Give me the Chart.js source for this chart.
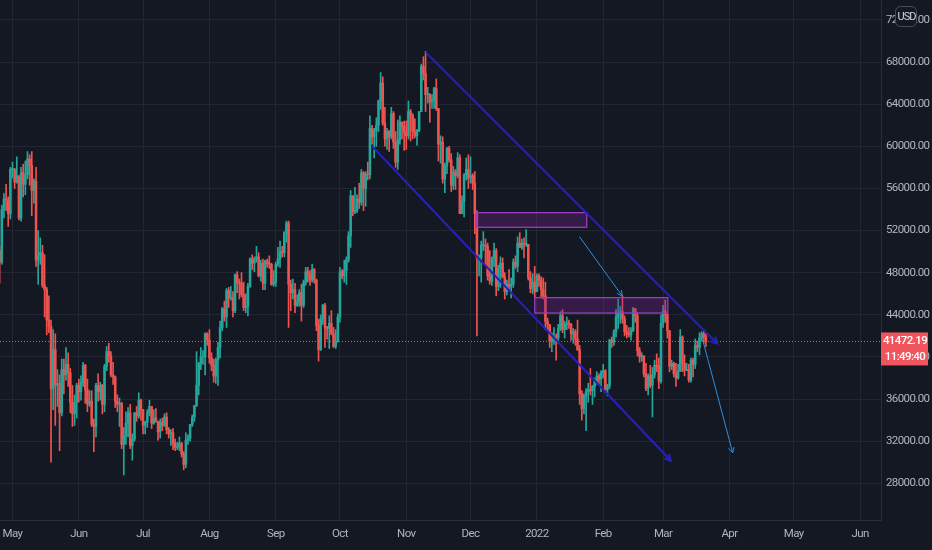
<!DOCTYPE html>
<html lang="en">
<head>
  <meta charset="UTF-8">
  <title>BTCUSD daily</title>
  <script src="https://cdn.jsdelivr.net/npm/chart.js"></script>
  <style>
    html, body { margin: 0; padding: 0; background: #141823; }
    #wrap { width: 932px; height: 550px; }
  </style>
</head>
<body>
  <div id="wrap"><canvas id="btcChart"></canvas></div>
  <script>
    // daily candles, values in thousands of USD; first close is Apr 24 2021 (open of the first candle)
    const firstDay = -6; // Apr 25 2021, counted in days from May 1 2021
    const closes = [50.1,
      49.0, 54.0, 55.0, 54.9, 53.6, 57.8,
      57.8, 56.6, 57.2, 53.2, 57.5, 56.4, 57.3, 58.8, 58.2, 55.8, 56.7, 49.2, 49.7, 49.9, 46.8, 46.4, 43.5, 42.9, 37.0, 40.7, 37.3, 37.5, 34.7, 38.8, 38.3, 39.3, 38.5, 35.7, 34.6, 35.7, 37.3,
      36.7, 37.6, 39.2, 36.9, 35.5, 35.8, 33.6, 33.4, 37.3, 36.7, 37.3, 35.5, 39.1, 40.5, 40.1, 38.3, 38.1, 35.8, 35.5, 35.6, 31.7, 32.5, 33.7, 34.7, 31.6, 32.2, 34.7, 34.4, 35.9, 35.0,
      33.5, 33.8, 34.7, 35.3, 33.7, 34.2, 33.9, 32.9, 33.8, 33.5, 34.3, 33.1, 32.7, 32.8, 31.8, 31.4, 31.5, 31.8, 30.8, 29.8, 32.1, 32.3, 33.6, 34.3, 35.4, 37.3, 39.4, 40.0, 40.0, 42.2, 41.6,
      39.9, 39.2, 38.2, 39.7, 40.9, 42.8, 44.6, 43.8, 46.3, 45.6, 45.6, 44.4, 47.8, 47.1, 47.0, 45.9, 44.7, 44.8, 46.7, 49.3, 48.9, 49.3, 49.5, 47.7, 48.9, 47.0, 49.1, 48.9, 48.8, 46.9, 47.1,
      48.8, 49.3, 50.0, 49.9, 51.8, 52.7, 46.9, 46.1, 46.4, 44.9, 45.2, 46.1, 44.9, 47.1, 48.1, 47.8, 47.3, 48.3, 47.3, 43.0, 40.7, 43.6, 44.9, 42.8, 42.7, 43.2, 42.2, 41.0, 41.5, 43.8,
      48.1, 47.7, 48.2, 49.2, 51.5, 55.3, 53.8, 53.9, 55.0, 54.7, 57.5, 56.0, 57.4, 57.3, 61.7, 60.9, 61.5, 62.0, 64.3, 66.0, 62.2, 60.7, 61.4, 60.9, 63.1, 60.4, 58.5, 60.6, 62.3, 61.9, 61.3,
      61.0, 63.3, 62.9, 61.4, 61.0, 61.5, 63.3, 67.6, 66.9, 64.9, 64.9, 64.2, 64.4, 65.5, 63.6, 60.2, 60.4, 56.9, 58.1, 59.8, 58.7, 56.3, 57.6, 57.2, 58.9, 53.6, 54.8, 57.3, 57.8, 57.0,
      57.2, 56.5, 53.6, 49.4, 49.4, 50.6, 50.6, 50.5, 47.7, 47.2, 49.4, 50.1, 46.7, 48.4, 48.9, 47.6, 46.2, 46.9, 46.7, 46.9, 49.0, 48.6, 50.8, 50.4, 50.8, 50.7, 50.7, 47.5, 46.5, 47.1, 46.2,
      47.7, 47.3, 46.4, 45.8, 43.4, 43.1, 41.5, 41.7, 41.9, 41.8, 42.7, 43.9, 42.6, 43.1, 43.2, 43.1, 42.2, 42.4, 41.7, 40.7, 36.5, 35.1, 36.3, 36.7, 36.9, 36.8, 37.2, 37.7, 38.2, 37.9, 38.5,
      38.7, 36.9, 37.3, 41.6, 41.4, 42.4, 43.8, 44.1, 44.3, 43.6, 42.4, 42.2, 42.1, 42.5, 44.6, 43.9, 40.6, 40.0, 40.1, 38.4, 37.0, 38.2, 37.3, 38.3, 39.2, 39.1, 37.7, 43.2,
      44.4, 44.0, 42.5, 39.1, 39.4, 38.4, 38.0, 38.7, 41.9, 39.4, 38.7, 38.8, 37.8, 39.7, 39.3, 41.1, 40.9, 41.8, 42.2, 41.9, 41.47219];
    const highs = [
      50.5, 54.4, 55.5, 56.4, 55.2, 58.0,
      58.5, 57.9, 59.0, 57.2, 58.0, 58.3, 58.6, 59.5, 59.2, 59.5, 56.9, 58.0, 52.0, 51.3, 50.6, 49.7, 46.6, 45.8, 43.5, 42.6, 42.2, 38.8, 38.3, 39.8, 39.8, 40.9, 40.4, 38.9, 37.3, 36.4, 37.5,
      37.9, 38.2, 39.5, 39.3, 37.9, 36.8, 36.8, 34.1, 37.5, 38.4, 37.6, 37.4, 39.3, 41.0, 41.3, 40.5, 39.5, 38.2, 36.4, 36.1, 35.7, 33.3, 34.8, 35.2, 35.5, 32.7, 34.7, 35.3, 36.6, 36.0,
      35.0, 33.9, 35.0, 35.9, 35.3, 35.0, 35.1, 33.9, 34.1, 34.2, 34.6, 34.7, 33.3, 33.1, 33.2, 32.2, 31.9, 32.4, 31.9, 31.0, 32.8, 32.6, 33.6, 34.5, 35.4, 40.5, 39.5, 40.9, 40.6, 42.3, 42.3,
      42.6, 40.4, 39.8, 39.9, 41.4, 43.4, 44.7, 45.3, 46.5, 46.6, 46.7, 46.2, 47.9, 48.1, 47.4, 48.0, 47.1, 46.0, 47.0, 49.4, 49.7, 49.5, 50.5, 49.9, 49.2, 49.3, 49.2, 49.3, 49.6, 48.9, 48.2,
      49.0, 50.4, 51.0, 50.5, 51.9, 52.9, 52.9, 47.3, 47.4, 47.0, 45.9, 46.4, 46.9, 47.3, 48.5, 48.5, 48.2, 48.8, 48.4, 47.4, 43.6, 44.0, 45.0, 45.1, 42.9, 43.9, 44.4, 42.8, 42.6, 44.1,
      48.5, 48.3, 49.2, 49.5, 51.9, 55.8, 55.3, 56.1, 55.4, 56.5, 57.8, 57.6, 57.6, 58.5, 62.9, 62.0, 61.7, 62.7, 64.4, 67.0, 66.6, 63.7, 61.7, 61.5, 63.7, 63.3, 61.4, 62.5, 62.9, 62.3, 62.4,
      62.4, 64.3, 63.5, 63.1, 62.6, 61.6, 63.3, 67.8, 68.5, 69.0, 65.6, 65.0, 64.9, 65.6, 66.4, 63.6, 61.0, 60.9, 58.4, 59.9, 60.0, 59.3, 58.1, 57.8, 59.4, 59.2, 55.3, 57.4, 58.9, 59.2,
      59.0, 57.4, 57.6, 53.9, 49.7, 51.0, 51.9, 51.2, 50.8, 50.1, 49.5, 50.8, 50.3, 48.7, 49.5, 49.4, 48.0, 47.3, 48.3, 47.5, 49.3, 49.6, 51.4, 51.8, 51.2, 51.3, 52.1, 50.7, 48.1, 47.9, 48.6,
      47.9, 47.9, 47.6, 47.5, 47.1, 43.7, 43.1, 42.3, 42.8, 42.2, 43.1, 44.3, 44.5, 43.4, 43.8, 43.5, 43.2, 42.7, 42.6, 43.5, 41.1, 36.8, 36.5, 37.0, 37.5, 38.9, 37.3, 38.0, 38.6, 38.4, 38.7,
      39.3, 38.8, 37.4, 41.7, 41.9, 42.6, 44.5, 45.5, 44.8, 45.8, 43.9, 43.0, 42.8, 42.8, 44.7, 44.6, 44.2, 40.9, 40.4, 40.1, 39.4, 38.4, 39.2, 39.0, 39.7, 40.3, 39.9, 44.0,
      44.9, 45.4, 44.1, 42.5, 39.7, 39.5, 39.4, 39.3, 42.6, 42.0, 40.2, 39.4, 39.3, 39.9, 39.9, 41.7, 41.5, 42.3, 42.4, 42.6, 42.2];
    const lows = [
      47.0, 48.8, 53.2, 53.9, 52.4, 53.1,
      57.0, 56.0, 56.5, 53.0, 52.9, 55.2, 55.4, 56.9, 56.3, 53.4, 54.6, 48.6, 46.9, 48.8, 46.6, 43.8, 42.1, 42.3, 30.0, 35.0, 33.5, 35.3, 31.1, 34.4, 36.5, 37.8, 37.2, 34.7, 33.4, 33.5, 34.2,
      35.7, 35.9, 37.2, 35.6, 34.8, 35.3, 33.4, 31.0, 32.4, 35.8, 35.9, 34.6, 34.8, 38.7, 39.5, 38.1, 37.4, 35.2, 34.8, 33.4, 31.3, 28.8, 31.7, 32.4, 31.3, 30.2, 32.0, 33.9, 34.2, 34.0,
      32.7, 32.7, 33.3, 34.4, 33.2, 33.6, 33.8, 32.1, 32.3, 33.0, 33.4, 32.7, 32.3, 31.6, 31.2, 31.1, 31.2, 31.1, 30.5, 29.3, 29.5, 31.7, 32.0, 33.4, 33.9, 35.3, 36.4, 38.8, 39.3, 38.3, 41.1,
      39.4, 38.7, 37.6, 37.5, 37.3, 39.9, 42.5, 43.4, 42.8, 44.7, 45.4, 43.8, 44.2, 46.1, 45.5, 45.7, 44.4, 44.2, 43.9, 46.6, 48.3, 48.1, 49.0, 47.6, 47.2, 46.4, 46.4, 48.5, 48.4, 46.8, 46.7,
      46.7, 48.6, 48.5, 49.5, 49.5, 50.9, 42.8, 44.4, 45.5, 44.2, 44.8, 44.8, 43.4, 44.7, 46.8, 47.1, 46.8, 47.1, 47.0, 42.5, 39.6, 40.6, 43.1, 40.9, 41.7, 40.8, 42.1, 40.9, 40.8, 41.4,
      43.3, 47.4, 47.1, 46.9, 49.0, 50.4, 53.4, 53.6, 53.7, 54.1, 54.4, 53.9, 54.3, 56.8, 56.9, 60.2, 58.9, 60.0, 61.4, 63.5, 62.0, 60.0, 59.7, 59.5, 60.7, 59.8, 58.0, 57.8, 60.2, 60.7, 59.6,
      59.7, 60.7, 60.5, 60.7, 60.8, 60.1, 61.4, 63.3, 66.3, 63.3, 64.1, 62.3, 63.6, 63.6, 63.4, 58.6, 58.4, 56.5, 55.6, 57.4, 58.5, 55.7, 55.9, 55.9, 57.0, 53.6, 53.7, 53.3, 56.8, 56.0,
      56.5, 55.9, 51.7, 42.0, 47.7, 47.1, 50.1, 48.7, 47.3, 46.9, 46.8, 48.6, 45.8, 46.3, 46.6, 47.5, 45.5, 45.9, 46.4, 45.6, 46.6, 48.4, 48.1, 50.4, 50.2, 49.4, 50.5, 47.3, 46.1, 46.0, 45.7,
      46.2, 46.7, 45.7, 45.5, 42.6, 42.5, 40.9, 40.5, 41.2, 39.7, 41.3, 42.5, 42.3, 41.8, 42.6, 42.7, 41.6, 41.3, 41.1, 40.6, 35.5, 34.0, 34.6, 33.0, 35.7, 36.4, 35.5, 36.2, 37.4, 37.4, 36.7,
      38.0, 36.6, 36.3, 37.0, 40.9, 41.1, 41.9, 42.7, 43.2, 43.2, 42.0, 41.8, 41.9, 41.6, 42.4, 43.3, 40.1, 39.5, 39.6, 38.1, 36.8, 36.4, 37.1, 34.3, 38.0, 38.6, 37.0, 37.5,
      42.8, 43.3, 41.8, 38.6, 38.8, 38.1, 37.2, 37.9, 38.6, 38.6, 38.2, 38.7, 37.6, 37.6, 38.1, 38.9, 40.5, 40.2, 41.5, 41.3, 41.0];

    // axis labels
    const monthLabels = ['May', 'Jun', 'Jul', 'Aug', 'Sep', 'Oct', 'Nov', 'Dec', '2022', 'Feb', 'Mar', 'Apr', 'May', 'Jun'];
    const monthDays = [0, 31, 61, 92, 123, 153, 184, 214, 245, 276, 304, 335, 365, 396];
    const priceTicks = [28000, 32000, 36000, 40000, 44000, 48000, 52000, 56000, 60000, 64000, 68000, 72000];
    const countdown = '11:49:40';

    // drawings: [day, price in thousands]
    const channelUpper = [[193.1, 68.92], [329.2, 41.28]];
    const channelLower = [[167.9, 60.03], [307.6, 30.15]];
    const zones = [[216.9, 268.3, 53.70, 52.31], [244.0, 306.2, 45.63, 44.17]];
    const arrows = [[[264.9, 51.42], [284.9, 45.79]], [[322.5, 41.61], [336.5, 30.91]]];

    const UP = '#26a69a', DOWN = '#ef5350';
    const FONT = 'Roboto, "Noto Sans", sans-serif';
    const wicks = [], bodies = [], colors = [];
    for (let i = 0; i < highs.length; i++) {
      const day = firstDay + i, o = closes[i] * 1000, c = closes[i + 1] * 1000;
      wicks.push({ x: day, y: [lows[i] * 1000, highs[i] * 1000] });
      bodies.push({ x: day, y: [o, c] });
      colors.push(c >= o ? UP : DOWN);
    }
    const lastPrice = closes[closes.length - 1] * 1000;

    function arrowHead(ctx, x0, y0, x1, y1, len) {
      const ang = Math.atan2(y1 - y0, x1 - x0);
      ctx.beginPath();
      ctx.moveTo(x1 - len * Math.cos(ang - 0.5), y1 - len * Math.sin(ang - 0.5));
      ctx.lineTo(x1, y1);
      ctx.lineTo(x1 - len * Math.cos(ang + 0.5), y1 - len * Math.sin(ang + 0.5));
      ctx.stroke();
    }

    // TradingView axis text is condensed; tighten the letter spacing while the axes are drawn
    const tightText = {
      id: 'tightText',
      beforeDraw(chart) { chart.ctx.letterSpacing = '-0.6px'; },
      beforeDatasetsDraw(chart) { chart.ctx.letterSpacing = '0px'; }
    };

    const drawings = {
      id: 'drawings',
      afterDatasetsDraw(chart) {
        const { ctx, chartArea: a, scales: { x, y } } = chart;
        const px = d => x.getPixelForValue(d), py = p => y.getPixelForValue(p * 1000);
        ctx.save();
        ctx.beginPath();
        ctx.rect(a.left, a.top, a.right - a.left, a.bottom - a.top);
        ctx.clip();

        // last price line
        ctx.strokeStyle = '#f7525f';
        ctx.lineWidth = 1;
        ctx.setLineDash([1, 2]);
        ctx.beginPath();
        ctx.moveTo(a.left, y.getPixelForValue(lastPrice));
        ctx.lineTo(a.right, y.getPixelForValue(lastPrice));
        ctx.stroke();
        ctx.setLineDash([]);

        // supply zones
        zones.forEach(z => {
          const x0 = px(z[0]), x1 = px(z[1]), y0 = py(z[2]), y1 = py(z[3]);
          ctx.fillStyle = 'rgba(120, 38, 150, 0.32)';
          ctx.fillRect(x0, y0, x1 - x0, y1 - y0);
          ctx.strokeStyle = '#9c3cc2';
          ctx.lineWidth = 1.3;
          ctx.strokeRect(x0, y0, x1 - x0, y1 - y0);
        });

        // channel
        ctx.strokeStyle = '#2820bc';
        ctx.lineWidth = 2;
        [channelUpper, channelLower].forEach(l => {
          const x0 = px(l[0][0]), y0 = py(l[0][1]), x1 = px(l[1][0]), y1 = py(l[1][1]);
          ctx.beginPath();
          ctx.moveTo(x0, y0);
          ctx.lineTo(x1, y1);
          ctx.stroke();
          arrowHead(ctx, x0, y0, x1, y1, 7);
        });

        // projection arrows
        ctx.strokeStyle = '#2e8fe0';
        ctx.lineWidth = 1;
        arrows.forEach(l => {
          const x0 = px(l[0][0]), y0 = py(l[0][1]), x1 = px(l[1][0]), y1 = py(l[1][1]);
          ctx.beginPath();
          ctx.moveTo(x0, y0);
          ctx.lineTo(x1, y1);
          ctx.stroke();
          arrowHead(ctx, x0, y0, x1, y1, 6);
        });
        ctx.restore();
      },
      afterDraw(chart) {
        const { ctx, chartArea: a, scales: { y } } = chart;
        const yp = y.getPixelForValue(lastPrice);
        ctx.save();
        ctx.letterSpacing = '-0.6px';
        // last price tag
        ctx.fillStyle = '#f0545c';
        ctx.fillRect(a.right, yp - 9, 47, 33);
        ctx.fillStyle = '#ffffff';
        ctx.font = '500 11.5px ' + FONT;
        ctx.textAlign = 'center';
        ctx.textBaseline = 'middle';
        ctx.fillText(lastPrice.toFixed(2), a.right + 24, yp);
        ctx.fillText(countdown, a.right + 24, yp + 16);
        // currency badge
        ctx.fillStyle = '#141823';
        ctx.strokeStyle = '#4a4e5a';
        ctx.lineWidth = 1;
        ctx.beginPath();
        ctx.roundRect(a.right + 14.5, 6.5, 21, 20, 5);
        ctx.fill();
        ctx.stroke();
        ctx.fillStyle = '#d1d4dc';
        ctx.letterSpacing = '-0.9px';
        ctx.font = '11px ' + FONT;
        ctx.fillText('USD', a.right + 25.5, 17);
        ctx.restore();
      }
    };

    const tickFont = { family: FONT, size: 11.5 };
    const gridColor = '#222633';

    new Chart(document.getElementById('btcChart'), {
      type: 'bar',
      data: {
        datasets: [
          { data: wicks, backgroundColor: colors, barThickness: 1, grouped: false, order: 2 },
          { data: bodies, backgroundColor: colors, barThickness: 1.9, minBarLength: 1, grouped: false, order: 1 }
        ]
      },
      options: {
        responsive: true,
        maintainAspectRatio: false,
        animation: false,
        layout: { padding: 0 },
        plugins: { legend: { display: false }, tooltip: { enabled: false } },
        scales: {
          x: {
            type: 'linear',
            offset: false,
            min: -5.84,
            max: 405.8,
            afterBuildTicks: s => { s.ticks = monthDays.map(v => ({ value: v })); },
            afterFit: s => { s.height = 30; s.paddingLeft = 0; s.paddingRight = 0; },
            ticks: {
              autoSkip: false,
              maxRotation: 0,
              padding: 7,
              color: '#b2b5be',
              font: tickFont,
              callback: v => monthLabels[monthDays.indexOf(v)]
            },
            grid: { color: gridColor, drawTicks: false, offset: false },
            border: { color: '#2a2e39' }
          },
          y: {
            position: 'right',
            min: 24521,
            max: 73889,
            afterBuildTicks: s => { s.ticks = priceTicks.map(v => ({ value: v })); },
            afterFit: s => { s.width = 51; s.paddingTop = 0; s.paddingBottom = 0; },
            ticks: {
              padding: 5,
              color: '#b2b5be',
              font: tickFont,
              callback: v => v.toFixed(2)
            },
            grid: { color: gridColor, drawTicks: false },
            border: { color: '#2a2e39' }
          }
        }
      },
      plugins: [tightText, drawings]
    });
  </script>
</body>
</html>
